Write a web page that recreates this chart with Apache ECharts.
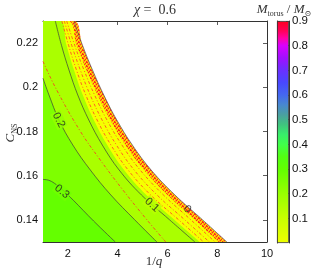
<!DOCTYPE html>
<html><head><meta charset="utf-8">
<script src="https://cdn.jsdelivr.net/npm/echarts@6/dist/echarts.min.js"></script>
<style>html,body{margin:0;padding:0;background:#fff}#c{width:332px;height:273px}</style>
</head><body><div id="c"></div>
<script>
// ---- tick values ----
const xTicks = [2, 4, 6, 8, 10];
const yTicks = [0.14, 0.16, 0.18, 0.2, 0.22];
const cbTicks = [0.1, 0.2, 0.3, 0.4, 0.5, 0.6, 0.7, 0.8, 0.9];
// ---- contour lines: [1/q, C_NS] ----
const edge0 = [[2.237,0.2300],[2.587,0.2190],[2.989,0.2078],[3.443,0.1965],[3.965,0.1852],[4.588,0.1739],[5.343,0.1626],[6.299,0.1513],[7.404,0.1401],[8.389,0.1300]];
const ditherEdge = [[2.016,0.2300],[2.358,0.2190],[2.748,0.2078],[3.194,0.1965],[3.704,0.1852],[4.315,0.1739],[5.062,0.1626],[6.006,0.1513],[7.099,0.1401],[8.067,0.1300]];
const red4 = [[1.952,0.2300],[2.274,0.2190],[2.647,0.2078],[3.073,0.1965],[3.571,0.1852],[4.170,0.1739],[4.901,0.1626],[5.837,0.1513],[6.934,0.1401],[7.914,0.1300]];
const red3 = [[1.856,0.2300],[2.153,0.2190],[2.499,0.2078],[2.896,0.1965],[3.374,0.1852],[3.949,0.1739],[4.660,0.1626],[5.580,0.1513],[6.689,0.1401],[7.685,0.1300]];
const red2 = [[1.759,0.2300],[2.029,0.2190],[2.346,0.2078],[2.720,0.1965],[3.174,0.1852],[3.728,0.1739],[4.419,0.1626],[5.323,0.1513],[6.444,0.1401],[7.456,0.1300]];
const yellowEdge = [[1.695,0.2300],[1.944,0.2190],[2.245,0.2078],[2.599,0.1965],[3.041,0.1852],[3.583,0.1739],[4.258,0.1626],[5.154,0.1513],[6.279,0.1401],[7.304,0.1300]];
const level01 = [[1.494,0.2300],[1.743,0.2190],[2.045,0.2078],[2.398,0.1965],[2.840,0.1852],[3.382,0.1739],[4.057,0.1626],[4.953,0.1513],[6.078,0.1401],[7.103,0.1300]];
const red1 = [[1.000,0.2117],[1.554,0.1987],[2.499,0.1801],[3.302,0.1671],[4.206,0.1536],[5.170,0.1401],[5.934,0.1300]];
const level02 = [[1.000,0.2041],[1.241,0.1965],[1.643,0.1852],[2.197,0.1739],[2.900,0.1626],[3.724,0.1513],[4.680,0.1401],[5.576,0.1300]];
const level03 = [[1.000,0.1583],[1.213,0.1580],[1.454,0.1566],[1.775,0.1537],[2.217,0.1489],[3.033,0.1395],[3.905,0.1300]];
const contourLabels = [['0.3',1.76,0.1528,-40],['0.2',1.63,0.1852,-64],['0.1',5.38,0.1468,-42],['0',6.80,0.1448,-42]];
const labelBg = ['#72ff00','#94ff00','#b8ff00','rgba(0,0,0,0)'];

const xMin = 1, xMax = 10, yMin = 0.13, yMax = 0.23;
const cbMin = 0, cbMax = 0.9;

// dithered red/orange pattern near the zero contour (style)
const pc = document.createElement('canvas'); pc.width = 4; pc.height = 4;
const pg = pc.getContext('2d');
const patRows = ['ROYO','OYRO','YORR','ORYO'];
const patCol = {R:'#ff2a1a', O:'#ffa010', Y:'#ffe600'};
patRows.forEach((r,i)=>{ for(let j=0;j<4;j++){ pg.fillStyle = patCol[r[j]]; pg.fillRect(j,i,1,1);} });

const chart = echarts.init(document.getElementById('c'));
const withCorner = l => [[xMin, yMax]].concat(l);
function fill(data, color, z){
  return {type:'line', xAxisIndex:0, yAxisIndex:0, data, smooth:0.4, symbol:'none', silent:true,
    lineStyle:{width:0, opacity:0}, areaStyle:{color, opacity:1, origin:'start'}, z, animation:false};
}
function cline(data, color, width, type, z){
  return {type:'line', xAxisIndex:0, yAxisIndex:0, data, smooth:0.4, symbol:'none', silent:true,
    lineStyle:{color, width, type}, z, animation:false};
}
const serif = '"Liberation Serif","DejaVu Serif",serif';
const sans = '"Liberation Sans",Arial,sans-serif';
const cbStops = [
  [0.9,'#ff0020'],[0.86,'#ff0058'],[0.83,'#ff00a8'],[0.8,'#d800ff'],[0.75,'#a010ff'],[0.7,'#6a30ff'],
  [0.65,'#4848ff'],[0.6,'#4468f0'],[0.56,'#4888d0'],[0.52,'#4aa0a0'],[0.48,'#40c47e'],[0.44,'#38ee6a'],
  [0.4,'#40ff4a'],[0.35,'#52ff12'],[0.3,'#62ff00'],[0.2,'#98ff00'],[0.1,'#c8ff00'],[0.0,'#eeff00']
].map(s=>({offset:(cbMax - s[0])/(cbMax-cbMin), color:s[1]}));

const axLine = {show:true, lineStyle:{color:'#333', width:1}};
const tick = v => ({show:true, inside:true, length:4, customValues:v, lineStyle:{color:'#333', width:0.8}});
const option = {
  backgroundColor:'#fff',
  animation:false,
  grid:[{left:43, right:65, top:21, bottom:31, show:false},
        {left:277, width:12, top:21, bottom:30, show:false}],
  xAxis:[
    {type:'value', gridIndex:0, min:xMin, max:xMax, position:'bottom', axisLine:axLine, axisTick:tick(xTicks),
     axisLabel:{customValues:xTicks, color:'#111', fontSize:11, fontFamily:sans, margin:6}, splitLine:{show:false}},
    {type:'value', gridIndex:0, min:xMin, max:xMax, position:'top', axisLine:axLine, axisTick:tick(xTicks),
     axisLabel:{show:false}, splitLine:{show:false}},
    {type:'category', gridIndex:1, data:['c'], show:false}
  ],
  yAxis:[
    {type:'value', gridIndex:0, min:yMin, max:yMax, position:'left', axisLine:axLine, axisTick:tick(yTicks),
     axisLabel:{customValues:yTicks, color:'#111', fontSize:11, fontFamily:sans, margin:5}, splitLine:{show:false}},
    {type:'value', gridIndex:0, min:yMin, max:yMax, position:'right', axisLine:axLine, axisTick:tick(yTicks),
     axisLabel:{show:false}, splitLine:{show:false}},
    {type:'value', gridIndex:1, min:cbMin, max:cbMax, position:'right', axisLine:axLine,
     axisTick:{show:true, inside:true, length:3, customValues:cbTicks, lineStyle:{color:'#333', width:0.8}},
     axisLabel:{customValues:cbTicks, color:'#111', fontSize:11.5, fontFamily:sans, margin:3}, splitLine:{show:false}},
    {type:'value', gridIndex:1, min:cbMin, max:cbMax, position:'left', axisLine:axLine,
     axisTick:{show:true, inside:true, length:3, customValues:cbTicks, lineStyle:{color:'#333', width:0.8}},
     axisLabel:{show:false}, splitLine:{show:false}}
  ],
  series:[
    fill(withCorner(edge0), {image:pc, repeat:'repeat'}, 1),
    fill(withCorner(ditherEdge), '#f6ff00', 2),
    fill(withCorner(yellowEdge), '#aaff00', 3),
    fill(level02, '#7eff00', 4),
    fill(level03, '#64ff00', 5),
    cline(red1, '#ff2a2a', 0.8, [3,2,1,2], 6),
    cline(red2, '#ff3a2a', 0.8, [3,2,1,2], 6),
    cline(red3, '#ff3a2a', 0.8, [3,2,1,2], 6),
    cline(red4, '#ff3a2a', 0.8, [3,2,1,2], 6),
    cline(level03, '#3c3c3c', 0.7, 'solid', 7),
    cline(level02, '#3c3c3c', 0.7, 'solid', 7),
    cline(level01, '#3c3c3c', 0.7, 'solid', 7),
    cline(edge0, '#555', 0.7, 'solid', 7),
    {type:'scatter', xAxisIndex:0, yAxisIndex:0, symbol:'circle', symbolSize:2, silent:true, z:9,
     itemStyle:{color:'rgba(0,0,0,0)'},
     data: contourLabels.map((c,i)=>({value:[c[1],c[2]], name:c[0], label:{rotate:c[3], backgroundColor:labelBg[i]}})),
     label:{show:true, position:'inside', formatter:p=>p.name, color:'#222', fontSize:11, fontFamily:sans, padding:[0,1]}},
    {type:'bar', xAxisIndex:2, yAxisIndex:2, data:[cbMax], barWidth:'100%', silent:true,
     itemStyle:{color:new echarts.graphic.LinearGradient(0,0,0,1,cbStops), borderColor:'#333', borderWidth:0.8}}
  ],
  graphic:[
    {type:'text', x:155, y:10, style:{text:'{i|χ} {r|=  0.6}', textAlign:'center', textVerticalAlign:'middle',
      rich:{i:{fontFamily:serif, fontStyle:'italic', fontSize:14, fill:'#333'}, r:{fontFamily:serif, fontSize:14, fill:'#333'}}}},
    {type:'text', x:284, y:10, style:{text:'{m|M}{s|torus}{r| / }{m|M}{s|⊙}', textAlign:'center', textVerticalAlign:'middle',
      rich:{m:{fontFamily:serif, fontStyle:'italic', fontSize:13, lineHeight:16, fill:'#333'},
            s:{fontFamily:serif, fontSize:8, lineHeight:9, verticalAlign:'bottom', fill:'#333'},
            r:{fontFamily:serif, fontSize:13, lineHeight:16, fill:'#333'}}}},
    {type:'text', x:154, y:262, style:{text:'{r|1/}{i|q}', textAlign:'center', textVerticalAlign:'middle',
      rich:{r:{fontFamily:serif, fontSize:13, fill:'#333'}, i:{fontFamily:serif, fontStyle:'italic', fontSize:13, fill:'#333'}}}},
    {type:'text', x:11, y:133, rotation:Math.PI/2, style:{text:'{m|C}{s|NS}', textAlign:'center', textVerticalAlign:'middle',
      rich:{m:{fontFamily:serif, fontStyle:'italic', fontSize:13, lineHeight:16, fill:'#333'},
            s:{fontFamily:serif, fontSize:8, lineHeight:9, verticalAlign:'bottom', fill:'#333'}}}}
  ]
};
chart.setOption(option);
</script></body></html>
